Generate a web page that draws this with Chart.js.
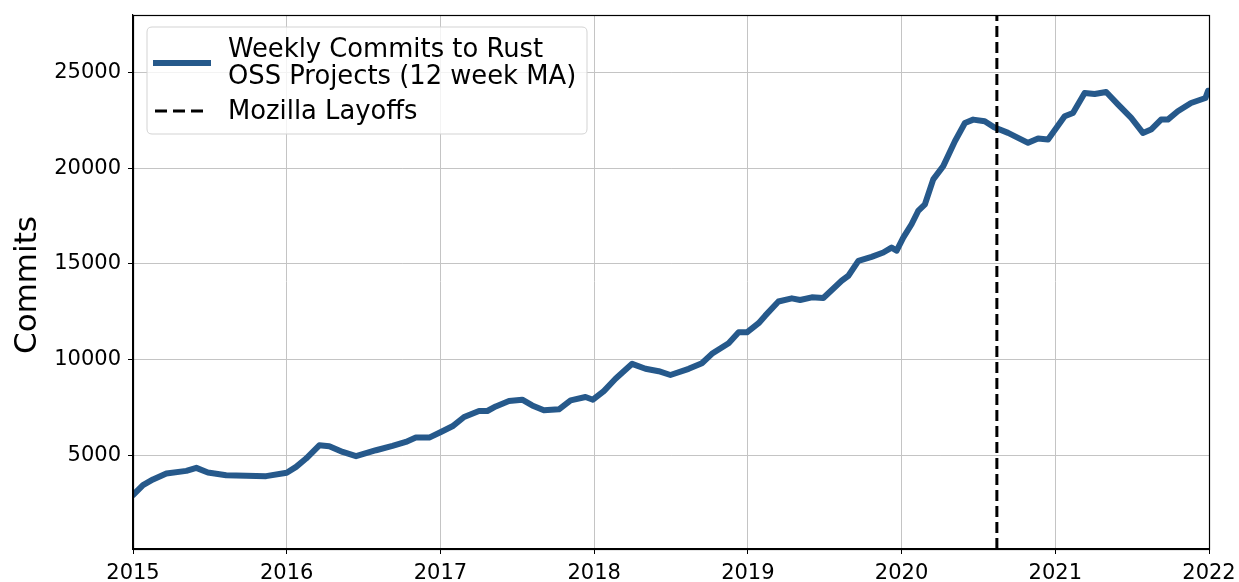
<!DOCTYPE html>
<html>
<head>
<meta charset="utf-8">
<script src="https://cdn.jsdelivr.net/npm/chart.js@4.4.1/dist/chart.umd.min.js"></script>
<style>
html,body{margin:0;padding:0;background:#fff;}
#c{display:block;}
</style>
</head>
<body>
<canvas id="c" width="1239" height="582"></canvas>
<script>
// ---- data ----
const years = [2015.000,2015.065,2015.130,2015.217,2015.347,2015.412,2015.487,2015.606,2015.736,2015.866,
  2016.000,2016.061,2016.126,2016.212,2016.277,2016.364,2016.451,2016.581,2016.688,2016.775,2016.840,2016.927,
  2017.003,2017.078,2017.154,2017.251,2017.305,2017.360,2017.446,2017.532,2017.597,2017.673,2017.771,2017.847,2017.944,
  2017.992,2018.063,2018.139,2018.247,2018.334,2018.420,2018.496,2018.615,2018.701,2018.766,2018.875,2018.940,
  2018.994,2019.070,2019.113,2019.199,2019.286,2019.340,2019.416,2019.491,2019.610,2019.654,2019.719,2019.805,
  2019.881,2019.935,2019.968,2020.011,2020.065,2020.108,2020.152,2020.206,2020.271,2020.347,2020.412,2020.466,
  2020.541,2020.602,2020.693,2020.823,2020.888,2020.953,2021.061,2021.115,2021.191,2021.256,2021.331,2021.409,
  2021.494,2021.570,2021.623,2021.688,2021.732,2021.797,2021.883,2021.977,2021.994];
const commits = [2917,3437,3734,4045,4183,4340,4097,3958,3922,3906,
  4080,4391,4826,5520,5469,5172,4948,5260,5484,5693,5920,5920,
  6215,6510,6997,7310,7310,7550,7830,7900,7600,7345,7400,7865,8040,
  7900,8350,8995,9775,9515,9390,9190,9515,9807,10297,10850,11420,
  11422,11900,12292,13030,13195,13110,13250,13212,14115,14375,15156,15365,
  15589,15849,15690,16370,17068,17760,18110,19411,20104,21406,22359,22535,
  22448,22135,21840,21320,21547,21494,22708,22880,23922,23870,23974,23315,
  22620,21840,22015,22535,22535,22969,23403,23663,24044];
const layoffYear = 2020.62;
const xTicks = [2015,2016,2017,2018,2019,2020,2021,2022];
const yTicks = [5000,10000,15000,20000,25000];
const yMin = 100, yMax = 28000;
const seriesLabel = ["Weekly Commits to Rust","OSS Projects (12 week MA)"];
const layoffLabel = "Mozilla Layoffs";
const yTitle = "Commits";

const FONT = "'DejaVu Sans', sans-serif";
const BLUE = '#26598b';

const mainData = years.map((x,i)=>({x:x, y:commits[i]}));
const vlineData = [{x:layoffYear, y:yMin},{x:layoffYear, y:yMax}];

const decor = {
  id:'decor',
  afterDraw(chart){
    const ctx = chart.ctx, a = chart.chartArea;
    ctx.save();
    // frame
    ctx.strokeStyle = '#000'; ctx.lineWidth = 1.2;
    ctx.strokeRect(Math.round(a.left)+0.5, Math.round(a.top)+0.5, Math.round(a.right-a.left), Math.round(a.bottom-a.top));
    // y title
    ctx.save();
    ctx.translate(28, (a.top+a.bottom)/2 + 3);
    ctx.rotate(-Math.PI/2);
    ctx.fillStyle='#000';
    ctx.font = "31px " + FONT;
    ctx.textAlign='center'; ctx.textBaseline='middle';
    ctx.fillText(yTitle, 0, 0);
    ctx.restore();
    // legend box
    const bx=147, by=27, bw=440, bh=107, r=5;
    ctx.beginPath();
    ctx.moveTo(bx+r,by); ctx.lineTo(bx+bw-r,by); ctx.quadraticCurveTo(bx+bw,by,bx+bw,by+r);
    ctx.lineTo(bx+bw,by+bh-r); ctx.quadraticCurveTo(bx+bw,by+bh,bx+bw-r,by+bh);
    ctx.lineTo(bx+r,by+bh); ctx.quadraticCurveTo(bx,by+bh,bx,by+bh-r);
    ctx.lineTo(bx,by+r); ctx.quadraticCurveTo(bx,by,bx+r,by);
    ctx.closePath();
    ctx.fillStyle='rgba(255,255,255,0.8)'; ctx.fill();
    ctx.strokeStyle='#d3d3d3'; ctx.lineWidth=1; ctx.stroke();
    // samples
    ctx.strokeStyle=BLUE; ctx.lineWidth=6; ctx.setLineDash([]);
    ctx.beginPath(); ctx.moveTo(153,63); ctx.lineTo(211,63); ctx.stroke();
    ctx.strokeStyle='#000'; ctx.lineWidth=3; ctx.setLineDash([12,6]);
    ctx.beginPath(); ctx.moveTo(155,111); ctx.lineTo(209,111); ctx.stroke();
    ctx.setLineDash([]);
    ctx.fillStyle='#000'; ctx.font="25.8px " + FONT;
    ctx.textAlign='left'; ctx.textBaseline='alphabetic';
    ctx.fillText(seriesLabel[0], 228, 57);
    ctx.fillText(seriesLabel[1], 228, 84);
    ctx.fillText(layoffLabel, 228, 119);
    ctx.restore();
  }
};

new Chart(document.getElementById('c'), {
  type:'line',
  data:{
    datasets:[
      {label:layoffLabel, data:vlineData, borderColor:'#000', borderWidth:3, borderDash:[11,5],
       pointRadius:0, fill:false, tension:0},
      {label:seriesLabel.join(' '), data:mainData, borderColor:BLUE, borderWidth:6,
       pointRadius:0, fill:false, tension:0, borderJoinStyle:'round', borderCapStyle:'round'}
    ]
  },
  options:{
    responsive:false, animation:false,
    layout:{padding:{top:15, right:30, left:0, bottom:0}},
    plugins:{legend:{display:false}, tooltip:{enabled:false}},
    scales:{
      x:{type:'linear', min:2015, max:2022,
        afterBuildTicks(axis){ axis.ticks = xTicks.map(v=>({value:v})); },
        afterFit(s){ s.height = 33; s.paddingLeft = 0; s.paddingRight = 0; },
        ticks:{callback:v=>String(v), font:{family:FONT, size:21}, color:'#000', padding:7, maxRotation:0, autoSkip:false},
        grid:{color:'#c4c4c4', lineWidth:1, tickColor:'#000', tickLength:5, drawTicks:true},
        border:{display:true, color:'#000', width:1.2}
      },
      y:{type:'linear', min:yMin, max:yMax,
        afterBuildTicks(axis){ axis.ticks = yTicks.map(v=>({value:v})); },
        afterFit(s){ s.width = 133; s.paddingTop = 0; s.paddingBottom = 0; },
        ticks:{callback:v=>String(v), font:{family:FONT, size:21}, color:'#000', padding:7, autoSkip:false},
        grid:{color:'#c4c4c4', lineWidth:1, tickColor:'#000', tickLength:5, drawTicks:true},
        border:{display:true, color:'#000', width:1.2}
      }
    }
  },
  plugins:[decor]
});
</script>
</body>
</html>
